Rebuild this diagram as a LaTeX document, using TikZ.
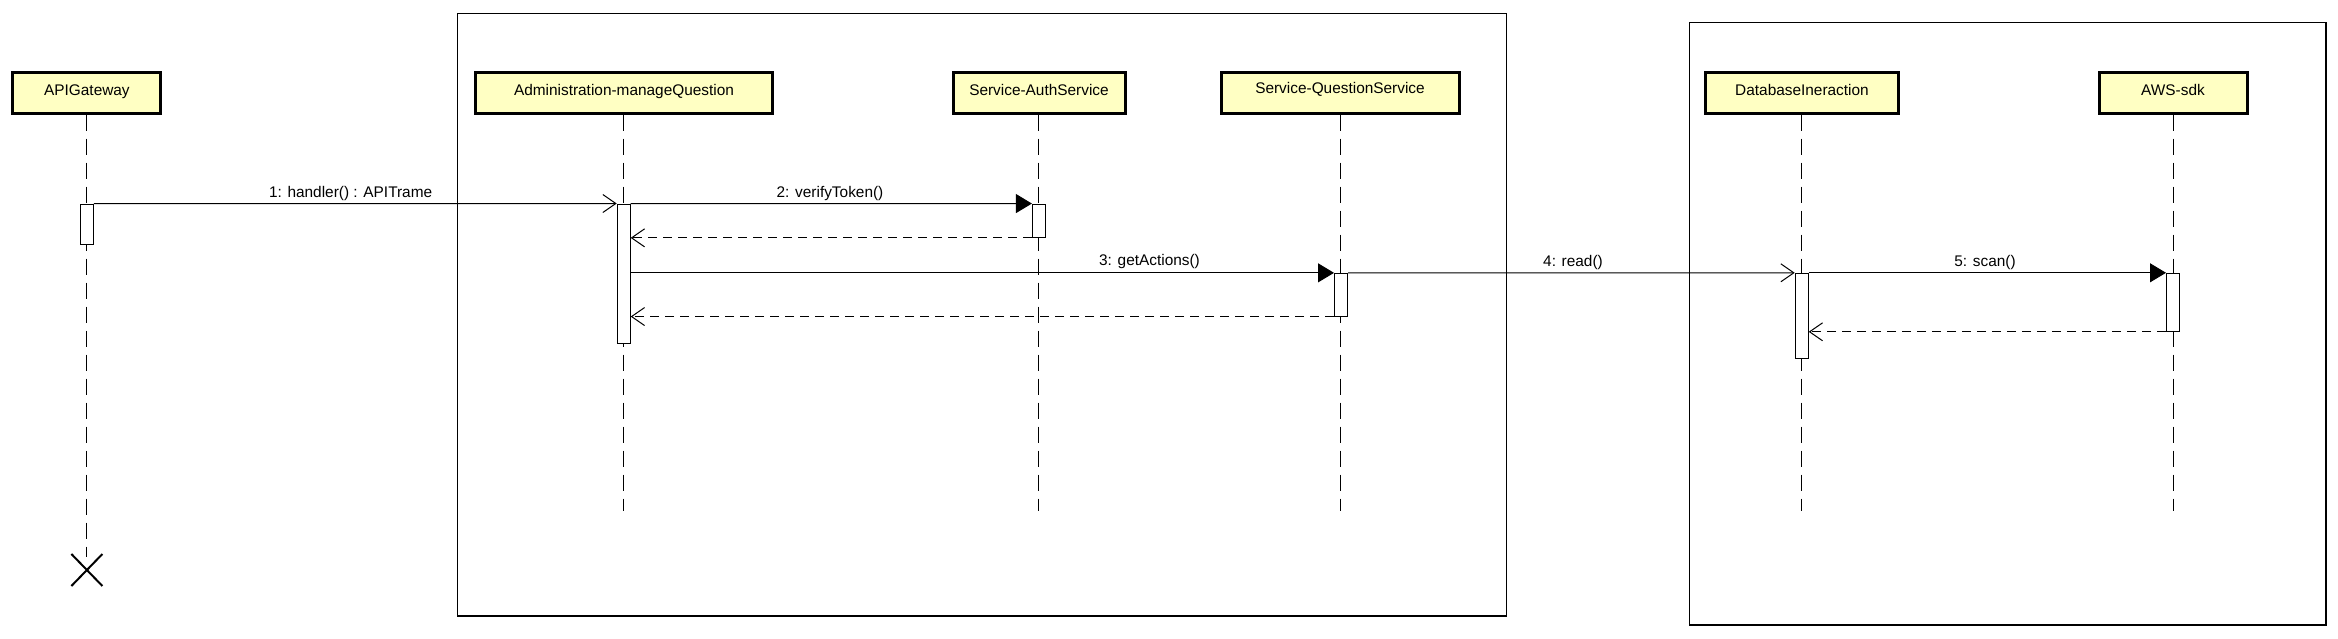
\documentclass[tikz,border=0pt]{standalone}
\usepackage{fontspec}
\setmainfont{Liberation Sans}
\usetikzlibrary{arrows.meta,shapes.misc}
\definecolor{headfill}{RGB}{255,255,195}
\tikzset{
  headbox/.style={draw, line width=3pt, fill=headfill, minimum height=41pt, inner sep=0pt, text height=11pt, text depth=5pt, font=\fontsize{15.4}{18}\selectfont},
  lifeline/.style={line width=1pt, dash pattern=on 16pt off 8pt},
  actbox/.style={draw, fill=white, line width=1pt, minimum width=13pt, inner sep=0pt},
  syncmsg/.style={line width=1pt, -{Triangle[length=16pt,width=19pt]}},
  openmsg/.style={line width=1pt, -{Straight Barb[length=13pt,width=18pt,line width=1pt]}},
  retmsg/.style={line width=1pt, dash pattern=on 9pt off 6pt, -{Straight Barb[length=13pt,width=18pt,line width=1pt]}},
  msglabel/.style={inner sep=0pt, font=\fontsize{15.4}{18}\selectfont},
  framebox/.style={line width=1.3pt},
  destroy/.style={cross out, draw, line width=2pt, minimum width=29pt, minimum height=30pt, inner sep=0pt}
}
\begin{document}
\begin{tikzpicture}[x=1pt,y=-1pt]
\useasboundingbox (0,0) rectangle (2338,638);
% frames
\draw[framebox] (457.6,13.4) rectangle (1506.6,616);
\draw[framebox] (1689.4,22.3) rectangle (2326,625);
% heads
\node[headbox, minimum width=148pt] (h1) at (86.9,92.5) {APIGateway};
\node[headbox, minimum width=297pt] (h2) at (624,92.5) {Administration-manageQuestion};
\node[headbox, minimum width=172pt] (h3) at (1039,92.5) {Service-AuthService};
\node[headbox, minimum width=238pt, text depth=9pt] (h4) at (1340,92.5) {Service-QuestionService};
\node[headbox, minimum width=193pt] (h5) at (1802,92.5) {DatabaseIneraction};
\node[headbox, minimum width=148pt] (h6) at (2173,92.5) {AWS-sdk};
% lifeline ends
\node[destroy] (x1) at (86.9,570) {};
\coordinate (e2) at (623.7,511);
\coordinate (e3) at (1038.5,511);
\coordinate (e4) at (1340.5,511);
\coordinate (e5) at (1801.7,511);
\coordinate (e6) at (2173,511);
\draw[lifeline] (h1.south) -- ([yshift=-3pt]x1.north);
\draw[lifeline] (h2.south -| e2) -- (e2);
\draw[lifeline] (h3.south -| e3) -- (e3);
\draw[lifeline] (h4.south -| e4) -- (e4);
\draw[lifeline] (h5.south -| e5) -- (e5);
\draw[lifeline] (h6.south -| e6) -- (e6);
% activations
\node[actbox, minimum height=40pt] (a1) at (86.9,224.2) {};
\node[actbox, minimum height=139pt] (a2) at (623.7,273.5) {};
\node[actbox, minimum height=33.3pt] (a3) at (1038.9,220.7) {};
\node[actbox, minimum height=42.7pt] (a4) at (1341,294.7) {};
\node[actbox, minimum height=85pt] (a5) at (1801.7,315.8) {};
\node[actbox, minimum height=58pt] (a6) at (2173,302.3) {};
% messages
\draw[openmsg] (a1.north east) -- (a2.north west);
\draw[syncmsg] (a2.north east) -- (a3.north west);
\draw[retmsg] (a3.south west) -- (a3.south west -| a2.east);
\draw[syncmsg] (a4.north west -| a2.east) -- (a4.north west);
\draw[retmsg] (a4.south west) -- (a4.south west -| a2.east);
\draw[openmsg] (a4.north east) -- (a5.north west);
\draw[syncmsg] (a5.north east) -- (a6.north west);
\draw[retmsg] (a6.south west) -- (a6.south west -| a5.east);
% labels
\node[msglabel] (l1) at (350.6,193.3) {1: handler() : APITrame};
\node[msglabel] (l2) at (830,193.3) {2: verifyToken()};
\node[msglabel] (l3) at (1149.5,262) {3: getActions()};
\node[msglabel] (l4) at (1573,262.5) {4: read()};
\node[msglabel] (l5) at (1985,262.5) {5: scan()};
\end{tikzpicture}
\end{document}
